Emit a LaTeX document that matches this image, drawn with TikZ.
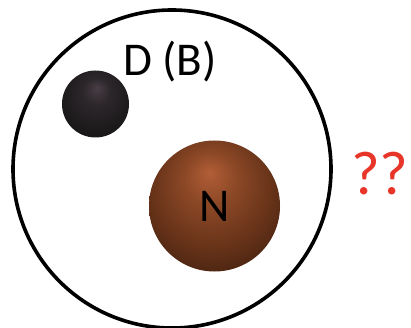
\documentclass[tikz,border=0pt]{standalone}
\usepackage{fontspec}
\setmainfont{Carlito}
\usepackage{xcolor}
\usepackage{tikz}
\definecolor{NucHi}{HTML}{B25E36}
\definecolor{NucMid}{HTML}{8C4826}
\definecolor{NucLow}{HTML}{5E2E16}
\definecolor{NucDark}{HTML}{34190C}
\definecolor{DarkHi}{HTML}{4A3E46}
\definecolor{DarkMid}{HTML}{2C272B}
\definecolor{DarkLow}{HTML}{1A1819}
\definecolor{Mark}{HTML}{E8352A}
\pgfdeclareradialshading{nucball}{\pgfpoint{-2bp}{13bp}}{color(0bp)=(NucHi); color(10bp)=(NucMid); color(26bp)=(NucLow); color(38bp)=(NucDark); color(50bp)=(NucDark)}
\pgfdeclareradialshading{darkball}{\pgfpoint{1bp}{12bp}}{color(0bp)=(DarkHi); color(10bp)=(DarkMid); color(28bp)=(DarkLow); color(50bp)=(DarkLow)}

\begin{document}
\begin{tikzpicture}[x=1pt,y=-1pt,
    ball/.style={circle,inner sep=0pt},
    big/.style={font=\fontsize{47}{54}\selectfont}]
  \useasboundingbox (0,0) rectangle (411,328);
  % outer shell
  \node[circle,draw,line width=3.6pt,minimum size=318pt,inner sep=0pt] (shell) at (172,169) {};
  % the two balls
  \node[ball,shading=darkball,minimum size=67pt] (dball) at (95.5,104) {};
  \node[ball,shading=nucball,minimum size=131pt,big] (nball) at (214.5,206) {\raisebox{-3pt}{N}};
  % labels
  \node[big,inner sep=0pt] (dlabel) at (170,62) {D (B)};
  \node[font=\fontsize{62}{70}\selectfont,text=Mark,inner sep=0pt] (qq) at (380,174) {??};
\end{tikzpicture}
\end{document}
